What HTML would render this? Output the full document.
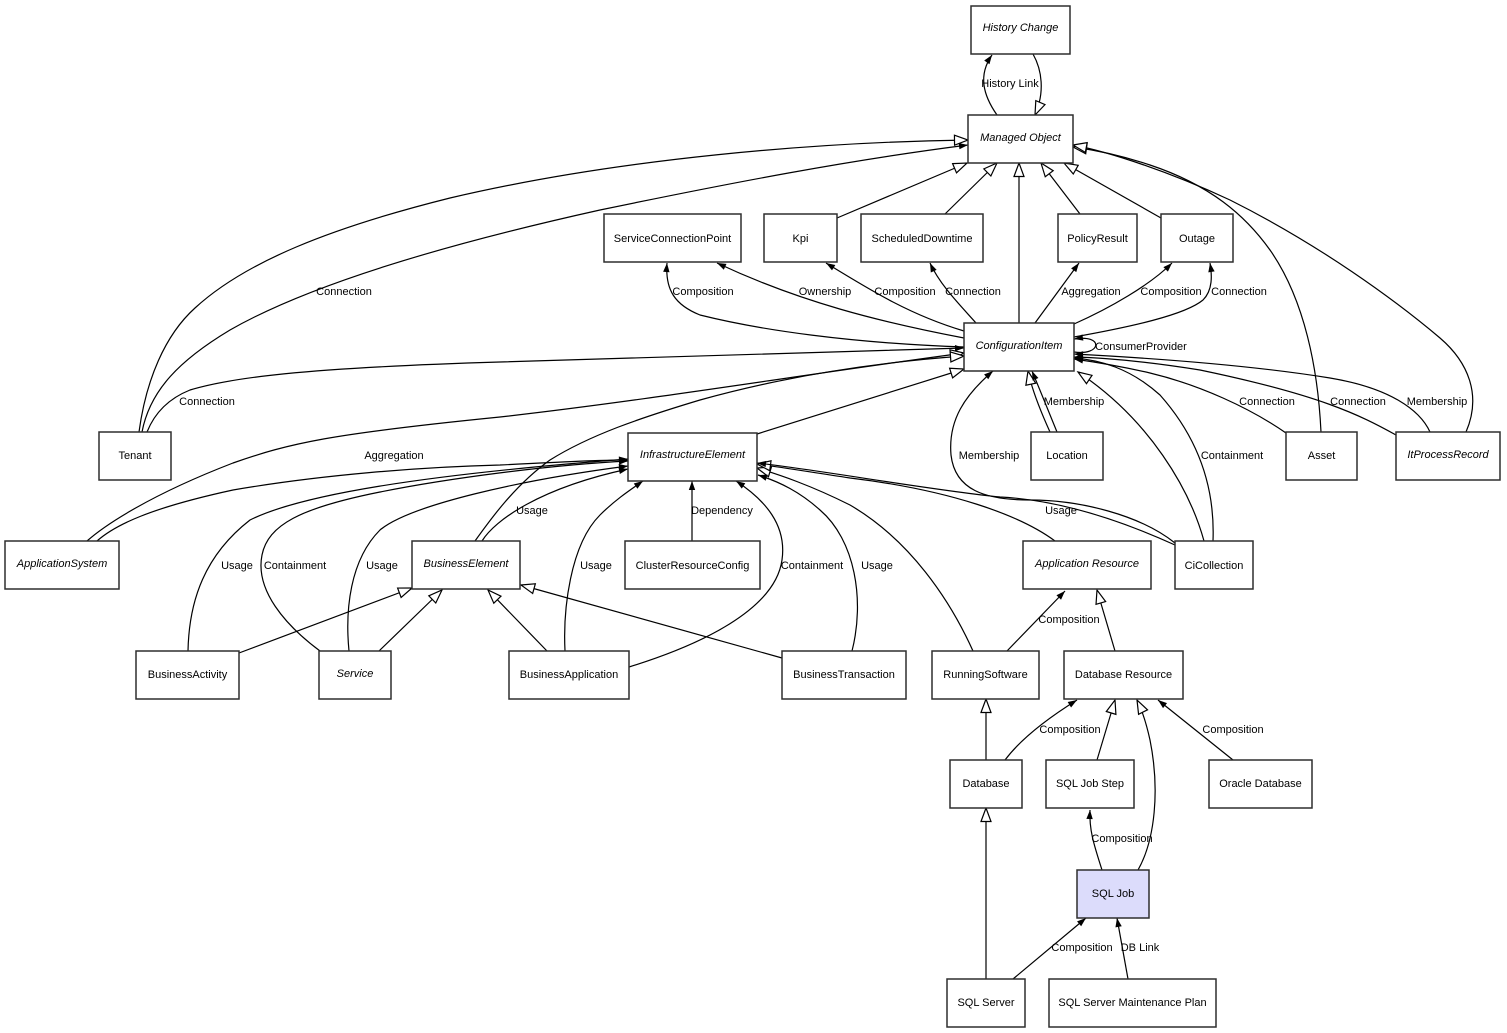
<!DOCTYPE html>
<html><head><meta charset="utf-8"><style>
html,body{margin:0;padding:0;background:#fff;}
svg{display:block;}
text{font-family:"Liberation Sans",Arial,sans-serif;font-size:11px;fill:#000;}
.n{text-anchor:middle;}
.i{font-style:italic;}
.l{text-anchor:middle;}
rect{fill:#fff;stroke:#2e2e2e;stroke-width:1.5;}
path.e{fill:none;stroke:#000;stroke-width:1.2;}
</style></head><body>
<svg width="1507" height="1033" viewBox="0 0 1507 1033" xmlns="http://www.w3.org/2000/svg">
<defs>
<marker id="f" markerWidth="10" markerHeight="8" refX="9" refY="4" orient="auto" markerUnits="userSpaceOnUse" overflow="visible"><path d="M0,0.8 L9,4 L0,7.2 z" fill="#000"/></marker>
<marker id="h" markerWidth="16" markerHeight="12" refX="14.5" refY="6" orient="auto" markerUnits="userSpaceOnUse" overflow="visible"><path d="M1,1 L14.5,6 L1,11 z" fill="#fff" stroke="#000" stroke-width="1.2"/></marker>
</defs>

<!-- edges: generalization (hollow) -->
<g>
<path class="e" marker-end="url(#h)" d="M1033,54 C1042,70 1045,92 1035,115"/>
<path class="e" marker-end="url(#h)" d="M139,432 C146,380 165,335 195,308 C245,262 330,228 450,198 C620,158 820,142 968,140"/>
<path class="e" marker-end="url(#h)" d="M1019,323 L1019,163"/>
<path class="e" marker-end="url(#h)" d="M837,218 L967,163"/>
<path class="e" marker-end="url(#h)" d="M945,214 L997,163"/>
<path class="e" marker-end="url(#h)" d="M1080,214 L1041,163"/>
<path class="e" marker-end="url(#h)" d="M1161,218 L1064,163"/>
<path class="e" marker-end="url(#h)" d="M1321,432 C1318,370 1305,300 1270,250 C1245,215 1210,185 1150,165 C1120,155 1095,150 1073,147"/>
<path class="e" marker-end="url(#h)" d="M1466,432 C1482,395 1468,362 1440,338 C1395,300 1320,245 1230,200 C1170,172 1110,152 1073,145"/>
<path class="e" marker-end="url(#h)" d="M87,541 C105,525 150,495 233,463 C290,443 330,434 500,417 C650,400 800,375 964,353"/>
<path class="e" marker-end="url(#h)" d="M475,541 C490,520 515,485 550,460 C590,435 640,418 700,400 C790,375 880,362 964,356"/>
<path class="e" marker-end="url(#h)" d="M757,434 L964,369"/>
<path class="e" marker-end="url(#h)" d="M1050,432 C1040,410 1032,390 1028,371"/>
<path class="e" marker-end="url(#h)" d="M1204,541 C1190,490 1150,420 1078,372"/>
<path class="e" marker-end="url(#h)" d="M973,651 C950,600 910,540 850,505 C810,485 780,475 757,468"/>
<path class="e" marker-end="url(#h)" d="M1055,541 C1020,515 950,490 850,478 C810,472 780,467 757,464"/>
<path class="e" marker-end="url(#h)" d="M239,653 L412,588"/>
<path class="e" marker-end="url(#h)" d="M379,651 L442,590"/>
<path class="e" marker-end="url(#h)" d="M547,651 L488,590"/>
<path class="e" marker-end="url(#h)" d="M782,658 L521,585"/>
<path class="e" marker-end="url(#h)" d="M1115,651 L1097,590"/>
<path class="e" marker-end="url(#h)" d="M986,760 L986,699"/>
<path class="e" marker-end="url(#h)" d="M1097,760 L1115,700"/>
<path class="e" marker-end="url(#h)" d="M1138,870 C1155,840 1160,790 1150,740 C1146,722 1142,710 1137,700"/>
<path class="e" marker-end="url(#h)" d="M986,979 L986,808"/>
</g>

<!-- edges: associations (filled arrow) -->
<g>
<path class="e" marker-end="url(#f)" d="M997,115 C983,95 978,75 992,55"/>
<path class="e" marker-end="url(#f)" d="M142,432 C150,390 180,360 230,330 C300,290 420,250 600,210 C730,183 850,160 968,145"/>
<path class="e" marker-end="url(#f)" d="M147,432 C155,412 170,398 190,390 C230,378 300,368 500,362 C700,356 850,350 964,348"/>
<path class="e" marker-end="url(#f)" d="M964,347 C850,343 760,330 700,315 C675,305 665,290 667,263"/>
<path class="e" marker-end="url(#f)" d="M964,338 C880,322 800,302 717,263"/>
<path class="e" marker-end="url(#f)" d="M964,331 C910,315 870,290 826,263"/>
<path class="e" marker-end="url(#f)" d="M976,323 C960,305 940,285 930,263"/>
<path class="e" marker-end="url(#f)" d="M1035,323 L1079,263"/>
<path class="e" marker-end="url(#f)" d="M1074,324 C1110,308 1150,285 1172,263"/>
<path class="e" marker-end="url(#f)" d="M1074,337 C1130,327 1185,315 1203,300 C1213,290 1212,275 1210,263"/>
<path class="e" marker-end="url(#f)" d="M1074,352 C1102,356 1104,334 1074,339"/>
<path class="e" marker-end="url(#f)" d="M1057,432 C1048,410 1040,390 1032,371"/>
<path class="e" marker-end="url(#f)" d="M1286,433 C1250,408 1200,385 1150,373 C1120,366 1095,362 1074,359"/>
<path class="e" marker-end="url(#f)" d="M1396,435 C1360,415 1320,395 1200,370 C1150,362 1110,358 1074,357"/>
<path class="e" marker-end="url(#f)" d="M1430,432 C1420,410 1390,388 1330,378 C1250,365 1150,358 1074,354"/>
<path class="e" marker-end="url(#f)" d="M1213,541 C1215,490 1200,440 1160,395 C1130,368 1100,360 1074,358"/>
<path class="e" marker-end="url(#f)" d="M1175,543 C1140,515 1080,500 1030,500 C985,500 955,490 951,455 C948,420 965,395 993,371"/>
<path class="e" marker-end="url(#f)" d="M1175,545 C1120,520 1060,500 1000,497 C930,490 820,470 757,463"/>
<path class="e" marker-end="url(#f)" d="M97,541 C115,525 150,508 233,490 C320,475 420,467 500,465 C560,462 600,460 628,460"/>
<path class="e" marker-end="url(#f)" d="M188,651 C189,600 205,555 250,520 C300,495 420,475 628,459"/>
<path class="e" marker-end="url(#f)" d="M320,651 C285,625 255,590 262,555 C268,525 300,508 380,492 C450,478 550,465 628,461"/>
<path class="e" marker-end="url(#f)" d="M349,651 C345,610 350,560 380,530 C410,505 520,480 628,466"/>
<path class="e" marker-end="url(#f)" d="M482,541 C495,520 540,488 628,469"/>
<path class="e" marker-end="url(#f)" d="M565,651 C563,610 570,545 600,515 C615,500 630,490 643,481"/>
<path class="e" marker-end="url(#f)" d="M692,541 L692,481"/>
<path class="e" marker-end="url(#f)" d="M629,667 C700,645 775,610 782,560 C787,525 765,500 736,481"/>
<path class="e" marker-end="url(#f)" d="M852,651 C865,600 855,540 820,510 C800,492 780,482 758,475"/>
<path class="e" marker-end="url(#f)" d="M1007,651 L1065,591"/>
<path class="e" marker-end="url(#f)" d="M1005,760 C1020,740 1045,720 1077,700"/>
<path class="e" marker-end="url(#f)" d="M1233,760 L1158,700"/>
<path class="e" marker-end="url(#f)" d="M1102,870 C1094,845 1089,830 1090,810"/>
<path class="e" marker-end="url(#f)" d="M1013,979 L1086,918"/>
<path class="e" marker-end="url(#f)" d="M1128,979 L1117,918"/>
</g>

<!-- nodes -->
<g>
<rect x="971" y="6" width="99" height="48"/><text class="n i" x="1020.5" y="31">History Change</text>
<rect x="968" y="115" width="105" height="48"/><text class="n i" x="1020.5" y="141">Managed Object</text>
<rect x="604" y="214" width="137" height="48"/><text class="n" x="672.5" y="242">ServiceConnectionPoint</text>
<rect x="764" y="214" width="73" height="48"/><text class="n" x="800.5" y="242">Kpi</text>
<rect x="861" y="214" width="122" height="48"/><text class="n" x="922" y="242">ScheduledDowntime</text>
<rect x="1058" y="214" width="79" height="48"/><text class="n" x="1097.5" y="242">PolicyResult</text>
<rect x="1161" y="214" width="72" height="48"/><text class="n" x="1197" y="242">Outage</text>
<rect x="964" y="323" width="110" height="48"/><text class="n i" x="1019" y="349">ConfigurationItem</text>
<rect x="99" y="432" width="72" height="48"/><text class="n" x="135" y="459">Tenant</text>
<rect x="1031" y="432" width="72" height="48"/><text class="n" x="1067" y="459">Location</text>
<rect x="1286" y="432" width="71" height="48"/><text class="n" x="1321.5" y="459">Asset</text>
<rect x="1396" y="432" width="104" height="48"/><text class="n i" x="1448" y="458">ItProcessRecord</text>
<rect x="628" y="433" width="129" height="48"/><text class="n i" x="692.5" y="458">InfrastructureElement</text>
<rect x="5" y="541" width="114" height="48"/><text class="n i" x="62" y="567">ApplicationSystem</text>
<rect x="412" y="541" width="108" height="48"/><text class="n i" x="466" y="567">BusinessElement</text>
<rect x="625" y="541" width="135" height="48"/><text class="n" x="692.5" y="569">ClusterResourceConfig</text>
<rect x="1023" y="541" width="128" height="48"/><text class="n i" x="1087" y="567">Application Resource</text>
<rect x="1175" y="541" width="78" height="48"/><text class="n" x="1214" y="569">CiCollection</text>
<rect x="136" y="651" width="103" height="48"/><text class="n" x="187.5" y="678">BusinessActivity</text>
<rect x="319" y="651" width="72" height="48"/><text class="n i" x="355" y="677">Service</text>
<rect x="509" y="651" width="120" height="48"/><text class="n" x="569" y="678">BusinessApplication</text>
<rect x="782" y="651" width="124" height="48"/><text class="n" x="844" y="678">BusinessTransaction</text>
<rect x="932" y="651" width="107" height="48"/><text class="n" x="985.5" y="678">RunningSoftware</text>
<rect x="1064" y="651" width="119" height="48"/><text class="n" x="1123.5" y="678">Database Resource</text>
<rect x="950" y="760" width="72" height="48"/><text class="n" x="986" y="787">Database</text>
<rect x="1046" y="760" width="88" height="48"/><text class="n" x="1090" y="787">SQL Job Step</text>
<rect x="1209" y="760" width="103" height="48"/><text class="n" x="1260.5" y="787">Oracle Database</text>
<rect x="1077" y="870" width="72" height="48" style="fill:#dcdcfb"/><text class="n" x="1113" y="897">SQL Job</text>
<rect x="947" y="979" width="78" height="48"/><text class="n" x="986" y="1006">SQL Server</text>
<rect x="1049" y="979" width="167" height="48"/><text class="n" x="1132.5" y="1006">SQL Server Maintenance Plan</text>
</g>

<!-- edge labels -->
<g>
<text class="l" x="1010" y="87">History Link</text>
<text class="l" x="344" y="295">Connection</text>
<text class="l" x="703" y="295">Composition</text>
<text class="l" x="825" y="295">Ownership</text>
<text class="l" x="905" y="295">Composition</text>
<text class="l" x="973" y="295">Connection</text>
<text class="l" x="1091" y="295">Aggregation</text>
<text class="l" x="1171" y="295">Composition</text>
<text class="l" x="1239" y="295">Connection</text>
<text class="l" x="1141" y="350">ConsumerProvider</text>
<text class="l" x="207" y="405">Connection</text>
<text class="l" x="1074" y="405">Membership</text>
<text class="l" x="1267" y="405">Connection</text>
<text class="l" x="1358" y="405">Connection</text>
<text class="l" x="1437" y="405">Membership</text>
<text class="l" x="394" y="459">Aggregation</text>
<text class="l" x="989" y="459">Membership</text>
<text class="l" x="1232" y="459">Containment</text>
<text class="l" x="532" y="514">Usage</text>
<text class="l" x="722" y="514">Dependency</text>
<text class="l" x="1061" y="514">Usage</text>
<text class="l" x="237" y="569">Usage</text>
<text class="l" x="295" y="569">Containment</text>
<text class="l" x="382" y="569">Usage</text>
<text class="l" x="596" y="569">Usage</text>
<text class="l" x="812" y="569">Containment</text>
<text class="l" x="877" y="569">Usage</text>
<text class="l" x="1069" y="623">Composition</text>
<text class="l" x="1070" y="733">Composition</text>
<text class="l" x="1233" y="733">Composition</text>
<text class="l" x="1122" y="842">Composition</text>
<text class="l" x="1082" y="951">Composition</text>
<text class="l" x="1140" y="951">DB Link</text>
</g>
</svg>
</body></html>
